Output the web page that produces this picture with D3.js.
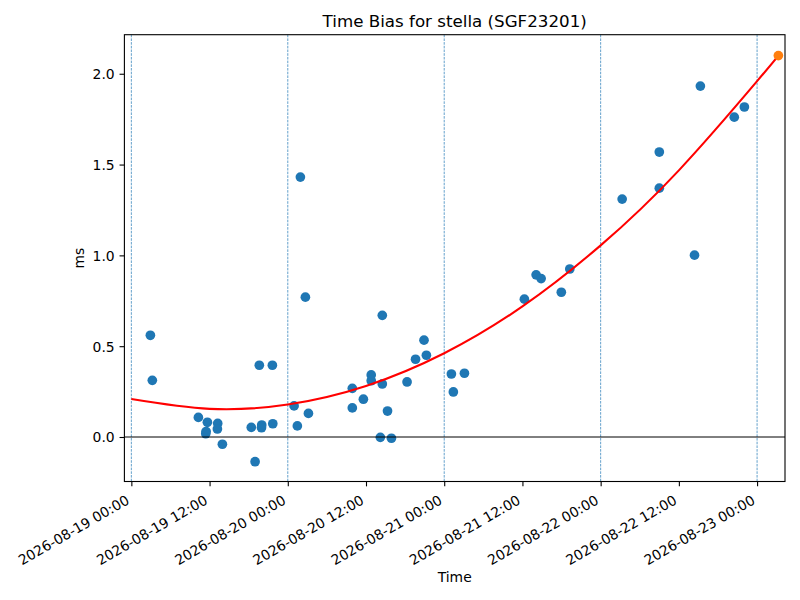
<!DOCTYPE html>
<html>
<head>
<meta charset="utf-8">
<script src="https://cdn.jsdelivr.net/npm/d3@7"></script>
<style>
  body { margin: 0; background: #fff; }
  text { font-family: "DejaVu Sans", sans-serif; fill: #000; }
</style>
</head>
<body>
<div id="chart"></div>
<script>
// measured samples (time, bias in ms)
const sampleTimes = [
  "2026-08-19 02:55", "2026-08-19 03:13", "2026-08-19 10:17", "2026-08-19 11:40",
  "2026-08-19 11:28", "2026-08-19 11:25", "2026-08-19 13:15", "2026-08-19 13:12",
  "2026-08-19 13:58", "2026-08-19 18:24", "2026-08-19 20:00", "2026-08-19 19:58",
  "2026-08-19 18:59", "2026-08-19 19:38", "2026-08-19 21:38", "2026-08-19 21:42",
  "2026-08-20 00:58", "2026-08-20 01:28", "2026-08-20 03:10", "2026-08-20 01:56",
  "2026-08-20 02:42", "2026-08-20 09:54", "2026-08-20 09:54", "2026-08-20 11:36",
  "2026-08-20 12:48", "2026-08-20 12:48", "2026-08-20 14:30", "2026-08-20 14:30",
  "2026-08-20 15:18", "2026-08-20 14:12", "2026-08-20 15:54", "2026-08-20 18:18",
  "2026-08-20 19:36", "2026-08-20 20:54", "2026-08-20 21:16", "2026-08-21 01:06",
  "2026-08-21 01:24", "2026-08-21 03:06", "2026-08-21 12:18", "2026-08-21 14:06",
  "2026-08-21 14:52", "2026-08-21 17:58", "2026-08-21 19:16", "2026-08-22 03:18",
  "2026-08-22 09:00", "2026-08-22 09:00", "2026-08-22 14:24", "2026-08-22 15:18",
  "2026-08-22 20:30", "2026-08-22 22:03"
];
const sampleBias = [
  0.560, 0.312, 0.108, 0.081,
  0.030, 0.018, 0.075, 0.044,
  -0.040, 0.053, 0.066, 0.051,
  -0.136, 0.395, 0.395, 0.073,
  0.171, 0.061, 0.130, 1.431,
  0.770, 0.268, 0.160, 0.208,
  0.342, 0.310, 0.670, 0.292,
  0.143, -0.002, -0.007, 0.303,
  0.428, 0.533, 0.450, 0.347,
  0.248, 0.351, 0.759, 0.893,
  0.872, 0.797, 0.925, 1.310,
  1.569, 1.370, 1.001, 1.932,
  1.761, 1.817
];

// fitted trend
const fitTimes = [
  "2026-08-19 00:00", "2026-08-19 12:00", "2026-08-20 00:00", "2026-08-20 12:00",
  "2026-08-21 00:00", "2026-08-21 12:00", "2026-08-22 00:00", "2026-08-22 12:00",
  "2026-08-23 00:00", "2026-08-23 03:16"
];
const fitBias = [0.209, 0.155, 0.179, 0.281, 0.461, 0.719, 1.055, 1.468, 1.959, 2.100];

// predicted point (orange)
const predTime = "2026-08-23 03:16";
const predBias = 2.100;

// day boundaries (dashed lines)
const dayLines = ["2026-08-19 00:00", "2026-08-20 00:00", "2026-08-21 00:00", "2026-08-22 00:00", "2026-08-23 00:00"];

const xDomain = ["2026-08-18 22:56", "2026-08-23 04:17"];
const yDomain = [-0.245, 2.215];
const yTicks = [0.0, 0.5, 1.0, 1.5, 2.0];

const parseTime = d3.timeParse("%Y-%m-%d %H:%M");
const fmtTime = d3.timeFormat("%Y-%m-%d %H:%M");

const canvWidth = 800, canvHeight = 600;
const margin = {top: 34.7, right: 15, bottom: 118.5, left: 124.4};
const width = canvWidth - margin.left - margin.right;
const height = canvHeight - margin.top - margin.bottom;

const svg = d3.select("#chart").append("svg")
    .attr("width", canvWidth)
    .attr("height", canvHeight);

const g = svg.append("g")
    .attr("transform", `translate(${margin.left},${margin.top})`);

const x = d3.scaleTime()
    .domain(xDomain.map(parseTime))
    .range([0, width]);

const y = d3.scaleLinear()
    .domain(yDomain)
    .range([height, 0]);

// scatter (matplotlib draws collections under lines)
const points = sampleTimes.map((t, i) => ({t: parseTime(t), v: sampleBias[i]}));

g.selectAll("circle.sample")
    .data(points)
    .join("circle")
      .attr("class", "sample")
      .attr("cx", d => x(d.t))
      .attr("cy", d => y(d.v))
      .attr("r", 4.85)
      .style("fill", "#1f77b4");

// day boundaries
g.selectAll("line.day")
    .data(dayLines.map(parseTime))
    .join("line")
      .attr("class", "day")
      .attr("x1", d => x(d)).attr("x2", d => x(d))
      .attr("y1", 0).attr("y2", height)
      .style("stroke", "#1f77b4")
      .style("stroke-width", 0.7)
      .style("stroke-dasharray", "2.6,1.1");

// zero line
g.append("line")
    .attr("x1", 0).attr("x2", width)
    .attr("y1", y(0)).attr("y2", y(0))
    .style("stroke", "#000")
    .style("stroke-width", 1);

// trend
const fit = fitTimes.map((t, i) => ({t: parseTime(t), v: fitBias[i]}));
const line = d3.line()
    .x(d => x(d.t))
    .y(d => y(d.v))
    .curve(d3.curveNatural);

g.append("path")
    .datum(fit)
    .attr("d", line)
    .style("fill", "none")
    .style("stroke", "#ff0000")
    .style("stroke-width", 2.08);

// prediction on top of the trend
g.append("circle")
    .attr("cx", x(parseTime(predTime)))
    .attr("cy", y(predBias))
    .attr("r", 4.85)
    .style("fill", "#ff7f0e");

// frame
g.append("rect")
    .attr("width", width)
    .attr("height", height)
    .style("fill", "none")
    .style("stroke", "#000")
    .style("stroke-width", 1.1);

// y axis
const yAxis = g.append("g")
    .call(d3.axisLeft(y).tickValues(yTicks).tickFormat(d3.format(".1f")).tickSize(4.86).tickPadding(4.86));
yAxis.select(".domain").remove();
yAxis.selectAll("line").style("stroke-width", 1.1);
yAxis.selectAll("text")
    .style("font-size", "13.9px")
    .style("font-family", "DejaVu Sans")
    .attr("dy", "0.35em");

// x axis, every 12 hours, rotated labels
const xTicks = d3.timeHour.every(12).range(parseTime("2026-08-19 00:00"), parseTime("2026-08-23 00:01"));
const xAxis = g.append("g")
    .attr("transform", `translate(0,${height})`)
    .call(d3.axisBottom(x).tickValues(xTicks).tickFormat(fmtTime).tickSize(4.86));
xAxis.select(".domain").remove();
xAxis.selectAll("line").style("stroke-width", 1.1);
xAxis.selectAll("text")
    .style("font-size", "13.9px")
    .style("font-family", "DejaVu Sans")
    .attr("text-anchor", "end")
    .attr("x", 0).attr("y", 0).attr("dy", null)
    .attr("transform", "translate(-1.5,21.5) rotate(-30)");

// labels
svg.append("text")
    .attr("x", margin.left + width / 2)
    .attr("y", 27)
    .attr("text-anchor", "middle")
    .style("font-size", "16.7px")
    .text("Time Bias for stella (SGF23201)");

svg.append("text")
    .attr("x", margin.left + width / 2)
    .attr("y", 582)
    .attr("text-anchor", "middle")
    .style("font-size", "13.9px")
    .text("Time");

svg.append("text")
    .attr("transform", `translate(84,${margin.top + height / 2}) rotate(-90)`)
    .attr("text-anchor", "middle")
    .style("font-size", "13.9px")
    .text("ms");
</script>
</body>
</html>
